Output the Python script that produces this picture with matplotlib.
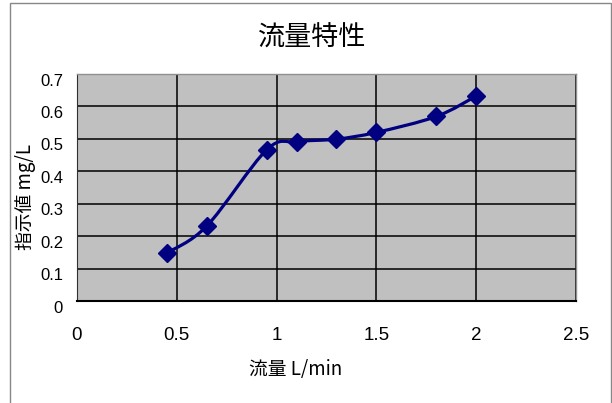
import matplotlib
matplotlib.use('Agg')
import matplotlib.pyplot as plt
import numpy as np
from matplotlib.path import Path
from matplotlib.patches import PathPatch, Rectangle
from matplotlib.transforms import ScaledTranslation

# 数据
flow = [0.45, 0.65, 0.95, 1.1, 1.3, 1.5, 1.8, 2.0]
reading = [0.148, 0.231, 0.466, 0.491, 0.499, 0.520, 0.569, 0.632]
x_ticks = [0, 0.5, 1, 1.5, 2, 2.5]
x_tick_labels = ['0', '0.5', '1', '1.5', '2', '2.5']
y_ticks = [0, 0.1, 0.2, 0.3, 0.4, 0.5, 0.6, 0.7]
y_tick_labels = ['0', '0.1', '0.2', '0.3', '0.4', '0.5', '0.6', '0.7']

title = '流量特性'
x_label = '流量 L/min'
y_label = '指示値 mg/L'

cjk = ['Noto Sans CJK JP', 'DejaVu Sans']
navy = '#000080'


def smooth_path(xs, ys):
    # Excel 风格的平滑线（三次贝塞尔）
    pts = np.column_stack([xs, ys])
    verts = [pts[0]]
    codes = [Path.MOVETO]
    n = len(pts)
    for i in range(n - 1):
        p0 = pts[i - 1] if i > 0 else pts[i]
        p1 = pts[i]
        p2 = pts[i + 1]
        p3 = pts[i + 2] if i + 2 < n else pts[i + 1]
        c1 = p1 + (p2 - p0) / 6.0
        c2 = p2 - (p3 - p1) / 6.0
        verts += [c1, c2, p2]
        codes += [Path.CURVE4] * 3
    return Path(verts, codes)


fig = plt.figure(figsize=(6.12, 4.03), dpi=100)
ax = fig.add_axes([0.1258, 0.2531, 0.8154, 0.5633])
ax.set_facecolor('#c0c0c0')

ax.set_xlim(0, 2.5)
ax.set_ylim(0, 0.7)
ax.set_xticks(x_ticks)
ax.set_xticklabels(x_tick_labels, family=['Liberation Sans Narrow', 'Liberation Sans'], fontsize=13.5)
ax.set_yticks(y_ticks)
ax.set_yticklabels(y_tick_labels, family=['Liberation Sans', 'DejaVu Sans'], fontsize=12)
ax.tick_params(axis='x', length=0, pad=19)
ax.tick_params(axis='y', length=0, pad=10)
for lab in ax.get_yticklabels():
    lab.set_transform(lab.get_transform() + ScaledTranslation(0, -4 / 72, fig.dpi_scale_trans))

ax.grid(True, color='black', linewidth=1.1)
ax.set_axisbelow(True)
for side in ['top', 'right']:
    ax.spines[side].set_color('#909090')
    ax.spines[side].set_linewidth(1.0)
ax.spines['left'].set_color('#303030')
ax.spines['bottom'].set_color('black')
ax.spines['bottom'].set_linewidth(1.5)

ax.add_patch(PathPatch(smooth_path(flow, reading), facecolor='none',
                       edgecolor=navy, linewidth=2.3, zorder=3))
ax.plot(flow, reading, linestyle='none', marker='D', markersize=9.5,
        color=navy, zorder=4)

fig.text(312 / 612, 1 - 38 / 403, title, family=cjk, fontsize=19.5,
         ha='center', va='center')
fig.text(296 / 612, 1 - 370 / 403, x_label, family=cjk, fontsize=13.5,
         ha='center', va='center')
fig.text(25 / 612, 1 - 197 / 403, y_label, family=cjk, fontsize=13.5,
         rotation=90, ha='center', va='center')

# 外框
fig.patches.append(Rectangle((10 / 612, -0.05), (611 - 10) / 612, 1 - 2.5 / 403 + 0.05,
                             transform=fig.transFigure, facecolor='none',
                             edgecolor='#888888', linewidth=1.0))

fig.savefig('out.png', dpi=100)
